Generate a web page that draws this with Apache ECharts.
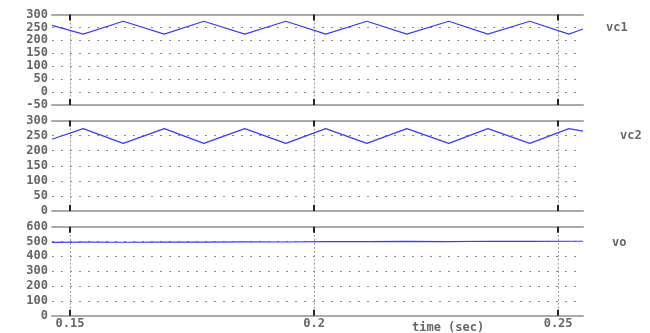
<!DOCTYPE html>
<html>
<head>
<meta charset="utf-8">
<script src="https://cdn.jsdelivr.net/npm/echarts@6/dist/echarts.min.js"></script>
<style>html,body{margin:0;padding:0;background:#fff;}#c{width:650px;height:333px;}</style>
</head>
<body>
<div id="c"></div>
<script>
// time (sec) of waveform vertices
const times = [0.1463, 0.1527, 0.1609, 0.1693, 0.1774, 0.1858, 0.1942, 0.2024, 0.2108, 0.2190, 0.2276, 0.2356, 0.2442, 0.2522, 0.2551];
const vc1 = [258, 224, 274, 224, 274, 224, 274, 224, 274, 224, 274, 224, 274, 224, 244];
const vc2 = [238, 273, 224, 273, 224, 273, 224, 273, 224, 273, 224, 273, 224, 273, 265];
const vo  = [494, 496, 495, 497, 496, 498, 497, 499, 500, 501, 500, 502, 501, 502, 502];
const xTicks = [0.15, 0.2, 0.25];
const seriesNames = ['vc1', 'vc2', 'vo'];
const yRanges = [[-50, 300, 50], [0, 300, 50], [0, 600, 100]];

const X_MIN = 0.1463, X_MAX = 0.2551;
const grids = [
  {left: 52, width: 531, top: 14.5, height: 90.5},
  {left: 52, width: 531, top: 120.5, height: 90.5},
  {left: 52, width: 531, top: 226.7, height: 89}
];
const labelFont = {fontFamily: 'DejaVu Sans Mono', fontWeight: 'bold', fontSize: 12, color: '#666'};

const xAxes = [], yAxes = [], series = [];
const dataSets = [vc1, vc2, vo];
for (let i = 0; i < 3; i++) {
  xAxes.push({
    type: 'value', gridIndex: i, min: X_MIN, max: X_MAX, position: 'bottom',
    axisLine: {show: true, onZero: false, lineStyle: {color: '#aaa', width: 2}},
    axisTick: {show: true, inside: true, length: 6, customValues: xTicks, lineStyle: {color: '#222', width: 2}},
    axisLabel: Object.assign({show: i === 2, customValues: xTicks, margin: 2}, labelFont),
    splitLine: {show: true, lineStyle: {type: [2, 2], color: '#999', width: 1}}
  });
  xAxes.push({
    type: 'value', gridIndex: i, min: X_MIN, max: X_MAX, position: 'top',
    axisLine: {show: true, onZero: false, lineStyle: {color: '#aaa', width: 2}},
    axisTick: {show: true, inside: true, length: 6, customValues: xTicks, lineStyle: {color: '#222', width: 2}},
    axisLabel: {show: false},
    splitLine: {show: false}
  });
  yAxes.push({
    type: 'value', gridIndex: i, min: yRanges[i][0], max: yRanges[i][1], interval: yRanges[i][2],
    axisLine: {show: false}, axisTick: {show: false},
    axisLabel: Object.assign({margin: 4}, labelFont),
    splitLine: {show: true, lineStyle: {type: [2, 7], color: '#888', width: 1}}
  });
  series.push({
    name: seriesNames[i], type: 'line', xAxisIndex: i * 2, yAxisIndex: i,
    data: times.map((t, k) => [t, dataSets[i][k]]),
    showSymbol: false, lineStyle: {color: '#3a3aff', width: 1.2}, itemStyle: {color: '#3a3aff'},
    animation: false
  });
}

const chart = echarts.init(document.getElementById('c'), null, {renderer: 'canvas'});
chart.setOption({
  backgroundColor: '#fff',
  animation: false,
  grid: grids,
  xAxis: xAxes,
  yAxis: yAxes,
  series: series,
  graphic: [
    {type: 'text', left: 606, top: 22, style: {text: 'vc1', fill: '#666', font: 'bold 12px DejaVu Sans Mono'}},
    {type: 'text', left: 620, top: 130, style: {text: 'vc2', fill: '#666', font: 'bold 12px DejaVu Sans Mono'}},
    {type: 'text', left: 612, top: 237, style: {text: 'vo', fill: '#666', font: 'bold 12px DejaVu Sans Mono'}},
    {type: 'text', left: 412, top: 322, style: {text: 'time (sec)', fill: '#666', font: 'bold 12px DejaVu Sans Mono'}}
  ]
});
</script>
</body>
</html>
